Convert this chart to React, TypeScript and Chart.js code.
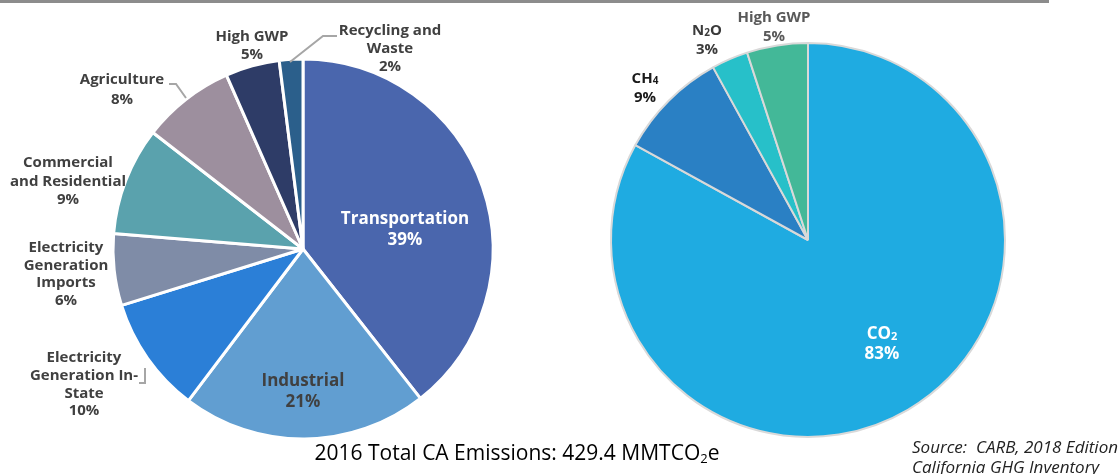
import React, { useEffect, useRef } from "react";
import { Chart, registerables } from "chart.js";

Chart.register(...registerables);

// ---------------- DATA ----------------
const sectorCategories = [
  "Transportation",
  "Industrial",
  "Electricity\nGeneration In-\nState",
  "Electricity\nGeneration\nImports",
  "Commercial\nand Residential",
  "Agriculture",
  "High GWP",
  "Recycling and\nWaste",
];
const sectorShares = [39.4, 20.9, 9.9, 6.1, 9.2, 7.9, 4.6, 2.0];

const gasCategories = ["CO_2", "CH_4", "N_2O", "High GWP"];
const gasShares = [83, 9, 3, 5];

const titleText = "2016 Total CA Emissions: 429.4 MMTCO";
const sourceLines = ["Source:  CARB, 2018 Edition", "California GHG Inventory"];

// ---------------- STYLES ----------------
const sectorColors = ["#4a66ad", "#619ed1", "#2b7fd7", "#7f8ca7", "#5aa2ad", "#9d8f9e", "#2e3c67", "#2b5f8b"];
const gasColors = ["#1fabe1", "#2a80c4", "#27c0c9", "#43b898"];

type LabelStyle = { dx: number; dy: number; lh: number; size: number; color: string };

const sectorLabelStyles: LabelStyle[] = [
  { dx: 102, dy: -30, lh: 21, size: 17, color: "#ffffff" },
  { dx: 0, dy: 132, lh: 21, size: 17, color: "#404040" },
  { dx: -219, dy: 109, lh: 17.7, size: 15, color: "#404040" },
  { dx: -237, dy: -1, lh: 17.5, size: 15, color: "#404040" },
  { dx: -235, dy: -86, lh: 18.5, size: 15, color: "#404040" },
  { dx: -181, dy: -169, lh: 20, size: 15, color: "#404040" },
  { dx: -51, dy: -212, lh: 18, size: 15, color: "#404040" },
  { dx: 87, dy: -218, lh: 18, size: 15, color: "#404040" },
];

const gasLabelStyles: LabelStyle[] = [
  { dx: 74, dy: 94, lh: 20, size: 17, color: "#ffffff" },
  { dx: -163, dy: -161, lh: 19, size: 15, color: "#1a1a1a" },
  { dx: -101, dy: -209, lh: 19, size: 15, color: "#3a3a3a" },
  { dx: -34, dy: -222, lh: 19, size: 15, color: "#595959" },
];

const sectorLeaders: number[][][] = [
  [[-134, -165], [-127, -165], [-117, -151]],
  [[-13, -187], [20, -213], [34, -213]],
  [[-164, 134], [-158, 134], [-158, 119]],
];

const FONT = "'Open Sans', Lato, sans-serif";

function drawRich(ctx: CanvasRenderingContext2D, text: string, cx: number, y: number, size: number) {
  const segs: { t: string; sub: boolean }[] = [];
  let i = 0;
  let buf = "";
  while (i < text.length) {
    if (text[i] === "_" && i + 1 < text.length) {
      if (buf) segs.push({ t: buf, sub: false });
      buf = "";
      segs.push({ t: text[i + 1], sub: true });
      i += 2;
    } else {
      buf += text[i];
      i++;
    }
  }
  if (buf) segs.push({ t: buf, sub: false });
  const mainFont = `bold ${size}px ${FONT}`;
  const subFont = `bold ${Math.round(size * 0.66)}px ${FONT}`;
  let total = 0;
  const widths = segs.map((s) => {
    ctx.font = s.sub ? subFont : mainFont;
    const w = ctx.measureText(s.t).width;
    total += w;
    return w;
  });
  let x = cx - total / 2;
  ctx.textAlign = "left";
  ctx.textBaseline = "middle";
  segs.forEach((s, k) => {
    ctx.font = s.sub ? subFont : mainFont;
    ctx.fillText(s.t, x, s.sub ? y + size * 0.15 : y);
    x += widths[k];
  });
}

function makeLabelPlugin(styles: LabelStyle[], leaders: number[][][]) {
  return {
    id: "sliceLabels",
    afterDatasetsDraw(chart: any) {
      const ctx: CanvasRenderingContext2D = chart.ctx;
      const meta = chart.getDatasetMeta(0);
      const arc = meta.data[0];
      const cx = arc.x;
      const cy = arc.y;
      const values: number[] = chart.data.datasets[0].data;
      const labels: string[] = chart.data.labels;
      const total = values.reduce((a, b) => a + b, 0);
      ctx.save();
      ctx.strokeStyle = "#a6a6a6";
      ctx.lineWidth = 2;
      leaders.forEach((pts) => {
        ctx.beginPath();
        pts.forEach((p, k) => {
          if (k === 0) ctx.moveTo(cx + p[0], cy + p[1]);
          else ctx.lineTo(cx + p[0], cy + p[1]);
        });
        ctx.stroke();
      });
      labels.forEach((lab, i) => {
        const st = styles[i];
        const lines = lab.split("\n");
        lines.push(Math.round((values[i] / total) * 100) + "%");
        ctx.fillStyle = st.color;
        lines.forEach((ln, k) => {
          drawRich(ctx, ln, cx + st.dx, cy + st.dy + k * st.lh, st.size);
        });
      });
      ctx.restore();
    },
  };
}

function PieCanvas(props: {
  left: number;
  width: number;
  height: number;
  labels: string[];
  values: number[];
  colors: string[];
  borderColor: string;
  borderWidth: number;
  radius: number;
  padding: { left: number; right: number; top: number; bottom: number };
  styles: LabelStyle[];
  leaders: number[][][];
}) {
  const ref = useRef<HTMLCanvasElement | null>(null);
  useEffect(() => {
    if (!ref.current) return;
    const chart = new Chart(ref.current, {
      type: "pie",
      data: {
        labels: props.labels,
        datasets: [
          {
            data: props.values,
            backgroundColor: props.colors,
            borderColor: props.borderColor,
            borderWidth: props.borderWidth,
          },
        ],
      },
      options: {
        animation: false,
        responsive: false,
        radius: props.radius,
        layout: { padding: props.padding },
        plugins: { legend: { display: false }, tooltip: { enabled: false }, title: { display: false } },
      } as any,
      plugins: [makeLabelPlugin(props.styles, props.leaders)],
    });
    return () => chart.destroy();
  }, []);
  return (
    <canvas
      ref={ref}
      width={props.width}
      height={props.height}
      style={{ position: "absolute", left: props.left, top: 0, width: props.width, height: props.height }}
    />
  );
}

export default function App() {
  return (
    <div
      style={{
        position: "absolute",
        left: 0,
        top: 0,
        width: 1120,
        height: 474,
        background: "#ffffff",
        overflow: "hidden",
      }}
    >
      <div style={{ position: "absolute", left: 0, top: 0, width: 1049, height: 3, background: "#8c8c8c" }} />
      <PieCanvas
        left={0}
        width={560}
        height={474}
        labels={sectorCategories}
        values={sectorShares}
        colors={sectorColors}
        borderColor="#ffffff"
        borderWidth={3}
        radius={190}
        padding={{ left: 46, right: 0, top: 24, bottom: 0 }}
        styles={sectorLabelStyles}
        leaders={sectorLeaders}
      />
      <PieCanvas
        left={560}
        width={560}
        height={474}
        labels={gasCategories}
        values={gasShares}
        colors={gasColors}
        borderColor="#d9d9d9"
        borderWidth={2}
        radius={197}
        padding={{ left: 0, right: 64, top: 6, bottom: 0 }}
        styles={gasLabelStyles}
        leaders={[]}
      />
      <div
        style={{
          position: "absolute",
          left: 0,
          width: 1034,
          top: 440,
          textAlign: "center",
          fontFamily: "'Open Sans', sans-serif",
          fontSize: 21,
          lineHeight: "24px",
          color: "#000",
          whiteSpace: "nowrap",
        }}
      >
        {titleText}
        <sub style={{ fontSize: 13, verticalAlign: "-3px" }}>2</sub>e
      </div>
      <div
        style={{
          position: "absolute",
          left: 912,
          top: 437,
          fontFamily: "'Open Sans', sans-serif",
          fontStyle: "italic",
          fontSize: 17,
          lineHeight: "20px",
          color: "#222",
          whiteSpace: "pre",
        }}
      >
        {sourceLines.map((s, i) => (
          <div key={i}>{s}</div>
        ))}
      </div>
    </div>
  );
}
